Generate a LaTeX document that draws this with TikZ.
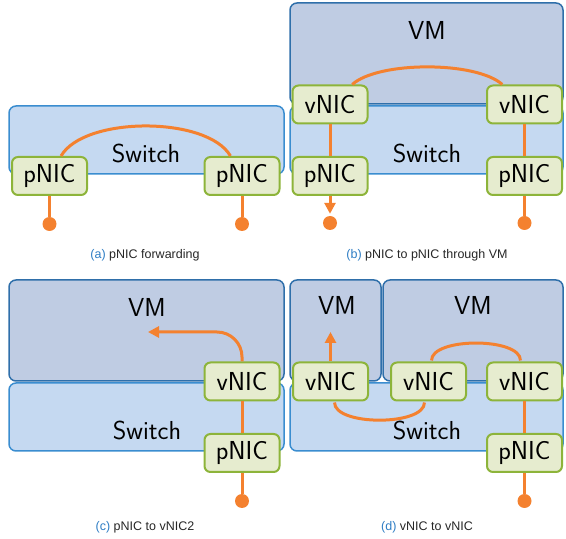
\documentclass[tikz,border=0pt]{standalone}
\usepackage{fontspec}
\newfontfamily\capfont{Liberation Sans}
\usetikzlibrary{arrows.meta}
\definecolor{vmfill}{HTML}{BFCCE3}
\definecolor{vmline}{HTML}{2F6FAA}
\definecolor{swfill}{HTML}{C5D9F1}
\definecolor{swline}{HTML}{3A8DD0}
\definecolor{nicfill}{HTML}{E6ECCF}
\definecolor{nicline}{HTML}{8DB43A}
\definecolor{flow}{HTML}{F4812F}
\definecolor{capblue}{HTML}{2E7DC4}
\tikzset{
	vmbox/.style={draw=vmline, fill=vmfill, line width=1.5pt, rounded corners=7pt,
			minimum height=101pt, inner sep=0pt, outer sep=0pt},
	swbox/.style={draw=swline, fill=swfill, line width=1.5pt, rounded corners=7pt,
			minimum height=68pt, inner sep=0pt, outer sep=0pt},
	nic/.style={draw=nicline, fill=nicfill, line width=2pt, rounded corners=6pt,
			minimum width=75pt, minimum height=38pt, inner sep=0pt,
			font=\sffamily\fontsize{26}{30}\selectfont},
	boxtext/.style={font=\sffamily\fontsize{26}{30}\selectfont},
	pin/.style={circle, fill=flow, minimum size=14pt, inner sep=0pt},
	flowline/.style={draw=flow, line width=3pt},
	caption/.style={font=\capfont\fontsize{12.5}{15}\selectfont, text=black!85}
}
\begin{document}
\begin{tikzpicture}[x=1pt,y=1pt,>={Triangle[length=11pt,width=11pt]}]
	\useasboundingbox (0,0) rectangle (566,539);

	% (a) pNIC forwarding
	\node[swbox, minimum width=275pt] (swA) at (146.5,399) {};
	\node[boxtext] (swAtext) at (146,386) {Switch};
	\node[nic] (pa1) at (49.5,363) {pNIC};
	\node[nic] (pa2) at (242,363) {pNIC};
	\node[pin] (pinA1) at (49.5,315) {};
	\node[pin] (pinA2) at (242,315) {};
	\draw[flowline] (pa1) to[out=60,in=120,looseness=0.7] (pa2);
	\draw[flowline] (pa1) -- (pinA1);
	\draw[flowline] (pa2) -- (pinA2);
	\node[caption] (capA) at (145,284) {\textcolor{capblue}{(a)} pNIC forwarding};

	% (b) pNIC to pNIC through VM
	\node[vmbox, minimum width=273pt] (vmB) at (426.5,485.5) {};
	\node[swbox, minimum width=273pt] (swB) at (426.5,399) {};
	\node[boxtext] (vmBtext) at (427,509) {VM};
	\node[boxtext] (swBtext) at (427,386) {Switch};
	\node[nic] (vb1) at (330,434.5) {vNIC};
	\node[nic] (vb2) at (524.5,434.5) {vNIC};
	\node[nic] (pb1) at (330,363) {pNIC};
	\node[nic] (pb2) at (524.5,363) {pNIC};
	\node[pin] (pinB1) at (330,316) {};
	\node[pin] (pinB2) at (524.5,316) {};
	\draw[flowline] (vb1) to[out=42,in=138,looseness=0.6] (vb2);
	\draw[flowline] (vb1) -- (pb1);
	\draw[flowline] (vb2) -- (pb2);
	\draw[flowline,->,shorten >=2pt] (pb1) -- (pinB1);
	\draw[flowline] (pb2) -- (pinB2);
	\node[caption] (capB) at (427,284) {\textcolor{capblue}{(b)} pNIC to pNIC through VM};

	% (c) pNIC to vNIC2
	\node[vmbox, minimum width=275pt] (vmC) at (146.5,208.5) {};
	\node[swbox, minimum width=275pt] (swC) at (146.5,122) {};
	\node[boxtext] (vmCtext) at (147,232) {VM};
	\node[boxtext] (swCtext) at (147,109) {Switch};
	\node[nic] (vc) at (242,157.5) {vNIC};
	\node[nic] (pc) at (242,86) {pNIC};
	\node[pin] (pinC) at (242,38) {};
	\coordinate (arrC) at (148,207);
	\draw[flowline] (pinC) -- (pc);
	\draw[flowline] (pc) -- (vc);
	\draw[flowline,->,rounded corners=25pt] (vc.north) |- (arrC);
	\node[caption] (capC) at (145,12) {\textcolor{capblue}{(c)} pNIC to vNIC2};

	% (d) vNIC to vNIC
	\node[vmbox, minimum width=91pt] (vmD1) at (335.5,208.5) {};
	\node[vmbox, minimum width=180pt] (vmD2) at (473,208.5) {};
	\node[swbox, minimum width=273pt] (swD) at (426.5,122) {};
	\node[boxtext] (vmD1text) at (337,234) {VM};
	\node[boxtext] (vmD2text) at (473,234) {VM};
	\node[boxtext] (swDtext) at (427,109) {Switch};
	\node[nic] (vd1) at (330.5,157.5) {vNIC};
	\node[nic] (vd2) at (428.5,157.5) {vNIC};
	\node[nic] (vd3) at (524.5,157.5) {vNIC};
	\node[nic] (pd) at (524.5,86) {pNIC};
	\node[pin] (pinD) at (524.5,38) {};
	\coordinate (arrD) at (330.5,207);
	\draw[flowline,->] (vd1.north) -- (arrD);
	\draw[flowline,shorten <=1pt,shorten >=1pt] ([xshift=4pt]vd1.south) to[out=-90,in=-90,looseness=0.7] ([xshift=-4pt]vd2.south);
	\draw[flowline,shorten <=1pt,shorten >=1pt] ([xshift=3pt]vd2.north) to[out=90,in=90,looseness=0.7] ([xshift=-4pt]vd3.north);
	\draw[flowline] (vd3) -- (pd);
	\draw[flowline] (pd) -- (pinD);
	\node[caption] (capD) at (427,12) {\textcolor{capblue}{(d)} vNIC to vNIC};
\end{tikzpicture}
\end{document}
